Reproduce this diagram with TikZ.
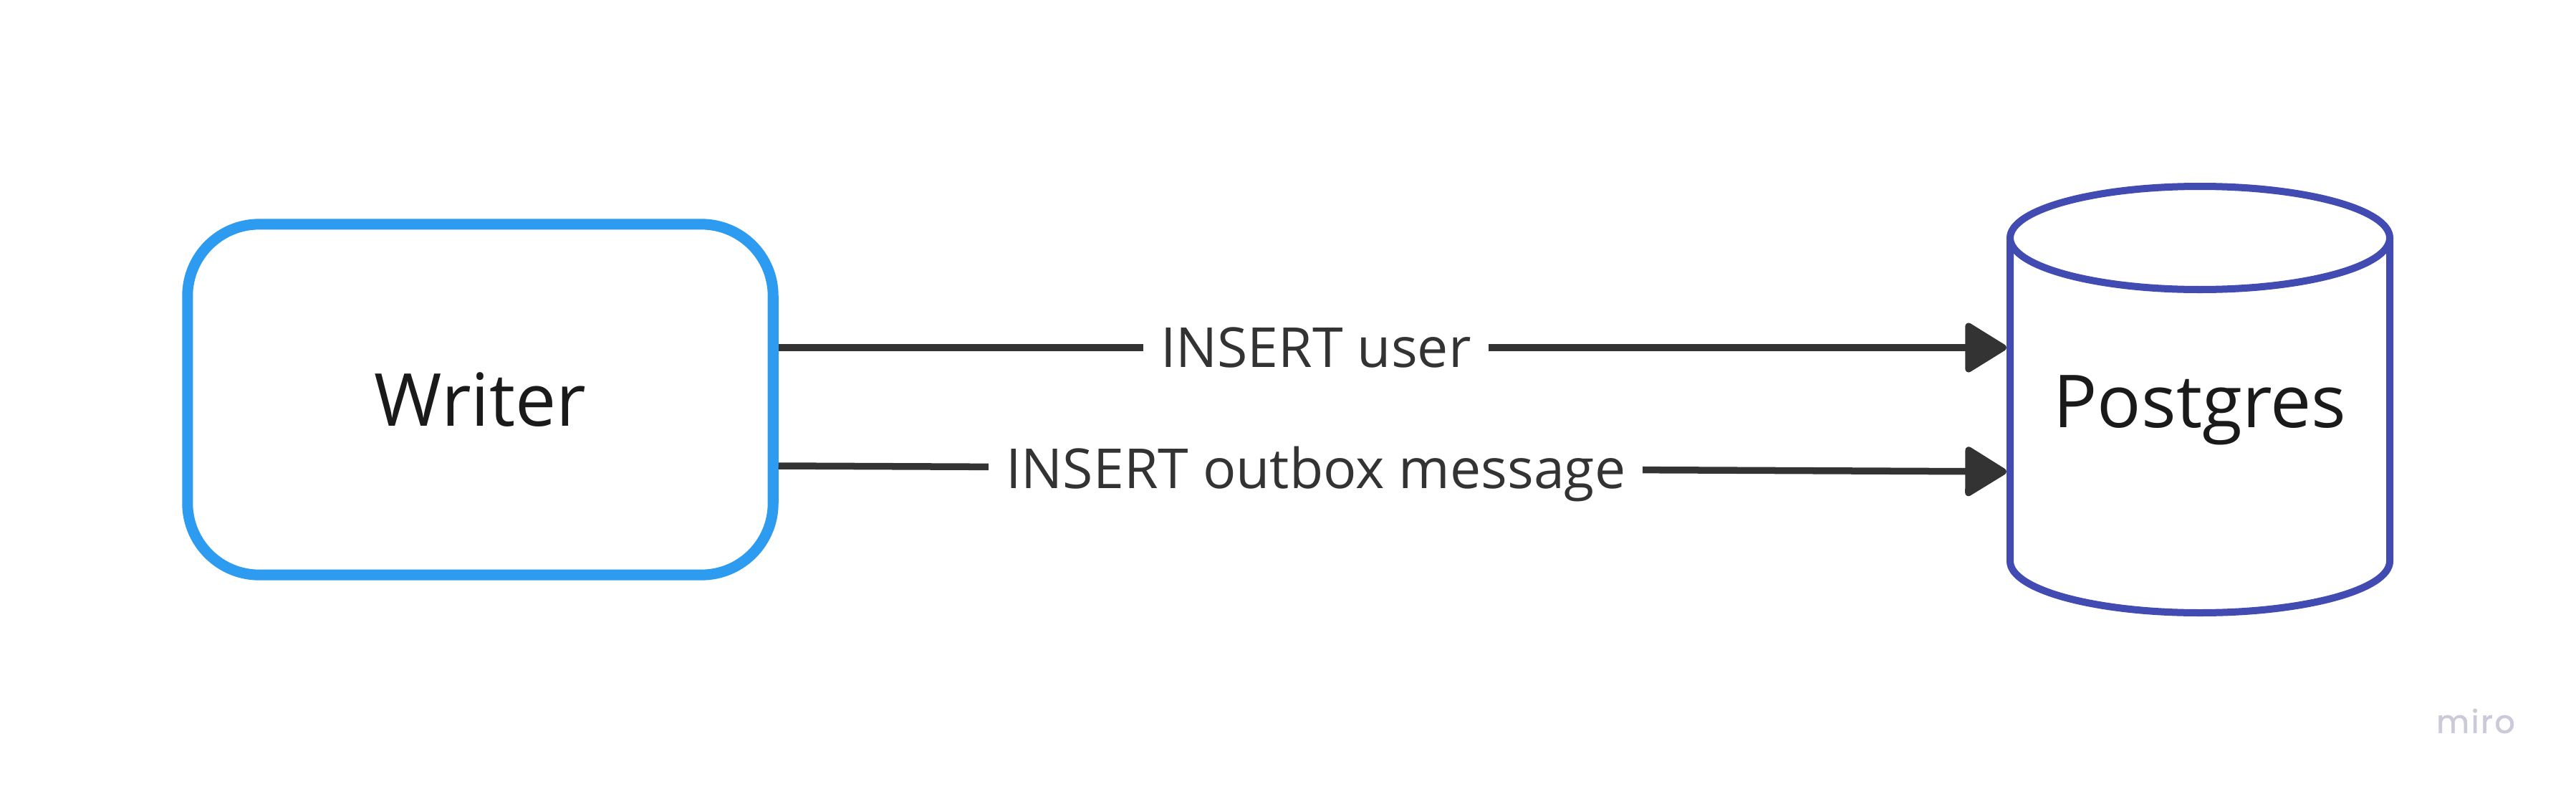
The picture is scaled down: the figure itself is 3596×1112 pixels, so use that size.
\documentclass[tikz,border=0pt]{standalone}
\usepackage{fontspec}
\setmainfont{Open Sans}
\newfontfamily\logofont{Poppins}[FakeBold=1.3, LetterSpace=6]
\usetikzlibrary{arrows.meta,calc}
\definecolor{wblue}{HTML}{2D9BF0}
\definecolor{pgblue}{HTML}{414BB2}
\definecolor{arrowgray}{HTML}{333333}
\definecolor{txt}{HTML}{1A1A1A}
\definecolor{logo}{HTML}{CACAD8}
\tikzset{
  box/.style={draw=wblue, line width=0.15cm, rounded corners=1cm, fill=white,
    minimum width=8.17cm, minimum height=4.89cm, inner sep=0pt,
    text height=0.73cm, text depth=0pt,
    font=\fontsize{29}{34}\selectfont, text=txt},
  dbtext/.style={inner sep=0pt, outer sep=0pt, minimum width=5.40cm, minimum height=4.5cm,
    text height=0.74cm, text depth=0pt,
    font=\fontsize{29}{34}\selectfont, text=txt},
  dbline/.style={draw=pgblue, line width=0.10cm},
  conn/.style={draw=arrowgray, line width=0.095cm,
    -{Triangle[length=0.62cm,width=0.74cm,round]}},
  lbl/.style={fill=white, inner xsep=0.24cm, inner ysep=0.05cm, text=arrowgray,
    text height=0.55cm, text depth=0pt,
    font=\fontsize{21.9}{26}\selectfont},
}
\begin{document}
\begin{tikzpicture}[x=0.01cm,y=0.01cm]
\useasboundingbox[fill=white] (0,0) rectangle (3596,-1112);
% Writer
\node[box] (w) at (670.5,-557.5) {Writer};
% Postgres cylinder
\draw[dbline, fill=white] (2806,-332) -- (2806,-783) arc (180:360:265 and 72) -- (3336,-332);
\draw[dbline, fill=white] (3071,-332) ellipse (265 and 72);
\node[dbtext] (pg) at (3071,-559) {Postgres};
% connectors
\draw[conn] ($(w.east)+(0,-485+557.5)$) coordinate (a1)
  -- node[lbl, pos=0.4376] {INSERT user} (a1 -| pg.west);
\draw[conn] ($(w.east)+(0,-650+557.5)$)
  -- node[lbl, pos=0.4376] {INSERT outbox message} ($(pg.west)+(0,-658+559)$);
% logo
\node[text=logo, font=\logofont\fontsize{12.6}{15}\selectfont, inner sep=0pt] (logo) at (3456,-1006) {miro};
\end{tikzpicture}
\end{document}
